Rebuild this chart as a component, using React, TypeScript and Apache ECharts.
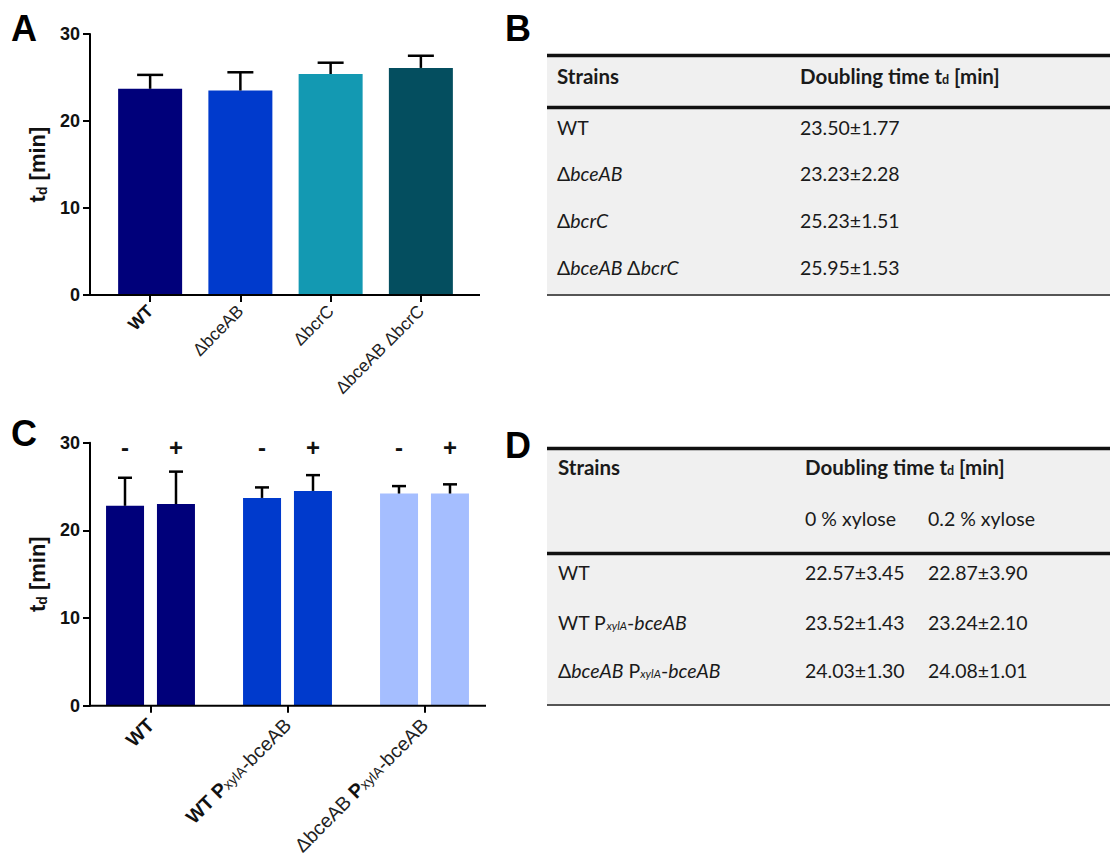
import React, { useEffect, useRef } from "react";
import * as echarts from "echarts";

// ---------- data ----------
const catsA = ["WT", "ΔbceAB", "ΔbcrC", "ΔbceAB ΔbcrC"];
const meanA = [23.7, 23.5, 25.4, 26.1];
const errA = [1.6, 2.1, 1.3, 1.4];

const catsC = ["WT", "WT PxylA-bceAB", "ΔbceAB PxylA-bceAB"];
const meanC0 = [22.8, 23.7, 24.2]; // 0 % xylose ("-")
const errC0 = [3.2, 1.2, 0.85];
const meanC2 = [23.0, 24.5, 24.2]; // 0.2 % xylose ("+")
const errC2 = [3.7, 1.8, 1.05];
const signs = ["-", "+"];

const yTicks = [0, 10, 20, 30];

const tableBRows = ["WT", "ΔbceAB", "ΔbcrC", "ΔbceAB ΔbcrC"];
const tableBValues = ["23.50±1.77", "23.23±2.28", "25.23±1.51", "25.95±1.53"];
const tableDRows = ["WT", "WT PxylA-bceAB", "ΔbceAB PxylA-bceAB"];
const tableD0 = ["22.57±3.45", "23.52±1.43", "24.03±1.30"];
const tableD2 = ["22.87±3.90", "23.24±2.10", "24.08±1.01"];

// ---------- styles ----------
const colorsA = ["#00007a", "#003acc", "#1399b2", "#044e5f"];
const colorsC = ["#00007a", "#003acc", "#a5beff"];
const FONT = "Liberation Sans, Arial, sans-serif";
const TFONT = "Lato, sans-serif";
const TSIZE = 19.5;
const TBOLD = 20.5;

const richStrainTable = (s: string) => {
  if (s === "WT") return "WT";
  if (s === "ΔbceAB") return "Δ{i|bceAB}";
  if (s === "ΔbcrC") return "Δ{i|bcrC}";
  if (s === "ΔbceAB ΔbcrC") return "Δ{i|bceAB} Δ{i|bcrC}";
  if (s === "WT PxylA-bceAB") return "WT P{sub|xylA}-{i|bceAB}";
  if (s === "ΔbceAB PxylA-bceAB") return "Δ{i|bceAB} P{sub|xylA}-{i|bceAB}";
  return s;
};

const richLabelC = (v: string) => {
  if (v === "WT") return "{b|WT}";
  if (v.startsWith("WT ")) return "{b|WT P}{s|xylA}{r|-bceAB}";
  return "{r|ΔbceAB }{b|P}{s|xylA}{r|-bceAB}";
};

const tableRich = {
  i: { fontFamily: TFONT, fontSize: TSIZE, fontStyle: "italic", fill: "#1a1a1a" },
  sub: { fontFamily: TFONT, fontSize: 11.5, fontStyle: "italic", fill: "#1a1a1a", padding: [7, 0, 0, 0] },
  bsub: { fontFamily: TFONT, fontSize: 12.5, fontWeight: "bold", fill: "#1a1a1a", padding: [7, 0, 0, 0] },
};

function tableText(text: string, x: number, y: number, bold = false) {
  return {
    type: "text",
    x,
    y,
    z: 20,
    style: {
      text,
      fontFamily: TFONT,
      fontSize: bold ? TBOLD : TSIZE,
      fontWeight: bold ? "bold" : "normal",
      fill: "#1a1a1a",
      textAlign: "left",
      textVerticalAlign: "middle",
      rich: tableRich,
    },
  };
}

function hline(x1: number, x2: number, y: number, w: number, c = "#111") {
  return { type: "line", z: 20, shape: { x1, y1: y, x2, y2: y }, style: { stroke: c, lineWidth: w } };
}

function letter(t: string, x: number, y: number) {
  return {
    type: "text",
    x,
    y,
    z: 20,
    style: { text: t, fontFamily: FONT, fontSize: 36, fontWeight: "bold", fill: "#000", textVerticalAlign: "top" },
  };
}

export default function App() {
  const ref = useRef<HTMLDivElement>(null);

  useEffect(() => {
    if (!ref.current) return;
    const chart = echarts.init(ref.current, undefined, { renderer: "svg" });

    const yAxisCommon = (gridIndex: number, offset: number) => ({
      gridIndex,
      type: "value",
      min: 0,
      max: 30,
      interval: 10,
      offset,
      axisLine: { show: true, lineStyle: { color: "#000", width: 2 } },
      axisTick: { show: true, length: 7, lineStyle: { color: "#000", width: 2 } },
      splitLine: { show: false },
      axisLabel: {
        fontFamily: FONT,
        fontSize: 18,
        fontWeight: "bold",
        color: "#111",
        margin: 10,
        formatter: (v: number) => (yTicks.includes(v) ? String(v) : ""),
      },
      name: "{t|t}{s|d}{t| [min]}",
      nameLocation: "middle",
      nameGap: 41,
      nameTextStyle: {
        rich: {
          t: { fontFamily: FONT, fontSize: 22, fontWeight: "bold", color: "#111" },
          s: { fontFamily: FONT, fontSize: 14, fontWeight: "bold", color: "#111", padding: [9, 0, 0, 0] },
        },
      },
    });

    const errRender = (dx: number, half: number, withSign: boolean) => (params: any, api: any) => {
      const i = api.value(0);
      const m = api.value(1);
      const e = api.value(2);
      const base = api.coord([i, m]);
      const top = api.coord([i, m + e]);
      const x = base[0] + dx;
      const children: any[] = [
        { type: "line", shape: { x1: x, y1: base[1], x2: x, y2: top[1] }, style: { stroke: "#000", lineWidth: 2.5 } },
        { type: "line", shape: { x1: x - half, y1: top[1], x2: x + half, y2: top[1] }, style: { stroke: "#000", lineWidth: 2.5 } },
      ];
      if (withSign) {
        const sy = api.coord([i, 29.5])[1];
        children.push({
          type: "text",
          x,
          y: sy,
          style: {
            text: dx < 0 ? signs[0] : signs[1],
            fontFamily: FONT,
            fontSize: 24,
            fontWeight: "bold",
            fill: "#111",
            textAlign: "center",
            textVerticalAlign: "middle",
          },
        });
      }
      return { type: "group", children };
    };

    const graphic: any[] = [
      letter("A", 11, 10),
      letter("B", 505, 10),
      letter("C", 11, 415),
      letter("D", 505, 427),
      // x axis lines
      hline(89, 480, 295, 2, "#000"),
      hline(89, 486, 705.7, 2, "#000"),
      // table B
      { type: "rect", z: 15, shape: { x: 547, y: 55, width: 563, height: 240 }, style: { fill: "#f0f0f0" } },
      hline(547, 1110, 55.5, 3.5),
      hline(547, 1110, 107.5, 3.5),
      hline(547, 1110, 295, 2, "#555"),
      tableText("Strains", 557, 76, true),
      tableText("Doubling time t{bsub|d} [min]", 800, 76, true),
      // table D
      { type: "rect", z: 15, shape: { x: 547, y: 448, width: 563, height: 257 }, style: { fill: "#f0f0f0" } },
      hline(547, 1110, 448.5, 3.5),
      hline(547, 1110, 553.5, 3.5),
      hline(547, 1110, 705, 2, "#555"),
      tableText("Strains", 558, 467, true),
      tableText("Doubling time t{bsub|d} [min]", 805, 467, true),
      tableText("0 % xylose", 805, 518),
      tableText("0.2 % xylose", 928, 518),
    ];
    const rowYB = [127, 173, 220, 267];
    tableBRows.forEach((r, k) => {
      graphic.push(tableText(richStrainTable(r), 557, rowYB[k]));
      graphic.push(tableText(tableBValues[k], 800, rowYB[k]));
    });
    const rowYD = [572, 622, 670];
    tableDRows.forEach((r, k) => {
      graphic.push(tableText(richStrainTable(r), 558, rowYD[k]));
      graphic.push(tableText(tableD0[k], 805, rowYD[k]));
      graphic.push(tableText(tableD2[k], 928, rowYD[k]));
    });

    const option: any = {
      animation: false,
      backgroundColor: "#fff",
      grid: [
        { left: 105, top: 34, width: 361, height: 261 },
        { left: 82, top: 442.7, width: 411, height: 263 },
      ],
      xAxis: [
        {
          gridIndex: 0,
          type: "category",
          data: catsA,
          axisLine: { show: false },
          axisTick: { show: true, alignWithLabel: true, length: 7, lineStyle: { color: "#000", width: 2 } },
          axisLabel: {
            interval: 0,
            rotate: 45,
            margin: 13,
            formatter: (v: string) => (v === "WT" ? "{b|WT}" : "{r|" + v + "}"),
            rich: {
              b: { fontFamily: FONT, fontSize: 17.5, fontWeight: "bold", color: "#111" },
              r: { fontFamily: FONT, fontSize: 17.5, color: "#222" },
            },
          },
        },
        {
          gridIndex: 1,
          type: "category",
          data: catsC,
          axisLine: { show: false },
          axisTick: { show: true, alignWithLabel: true, length: 7, lineStyle: { color: "#000", width: 2 } },
          axisLabel: {
            interval: 0,
            rotate: 45,
            margin: 16,
            formatter: (v: string) => richLabelC(v),
            rich: {
              b: { fontFamily: FONT, fontSize: 19.5, fontWeight: "bold", color: "#111" },
              r: { fontFamily: FONT, fontSize: 19.5, color: "#222" },
              s: { fontFamily: FONT, fontSize: 14, color: "#222", padding: [4, 0, 0, 0] },
            },
          },
        },
      ],
      yAxis: [yAxisCommon(0, 15), yAxisCommon(1, -8)],
      series: [
        {
          type: "bar",
          xAxisIndex: 0,
          yAxisIndex: 0,
          barWidth: 64,
          data: meanA.map((v, i) => ({ value: v, itemStyle: { color: colorsA[i] } })),
        },
        {
          type: "custom",
          xAxisIndex: 0,
          yAxisIndex: 0,
          z: 5,
          renderItem: errRender(0, 13, false),
          data: meanA.map((m, i) => [i, m, errA[i]]),
        },
        {
          type: "bar",
          name: "0 % xylose",
          xAxisIndex: 1,
          yAxisIndex: 1,
          barWidth: 38,
          barGap: "34%",
          data: meanC0.map((v, i) => ({ value: v, itemStyle: { color: colorsC[i] } })),
        },
        {
          type: "bar",
          name: "0.2 % xylose",
          xAxisIndex: 1,
          yAxisIndex: 1,
          barWidth: 38,
          barGap: "34%",
          data: meanC2.map((v, i) => ({ value: v, itemStyle: { color: colorsC[i] } })),
        },
        {
          type: "custom",
          xAxisIndex: 1,
          yAxisIndex: 1,
          z: 5,
          renderItem: errRender(-25.5, 7, true),
          data: meanC0.map((m, i) => [i, m, errC0[i]]),
        },
        {
          type: "custom",
          xAxisIndex: 1,
          yAxisIndex: 1,
          z: 5,
          renderItem: errRender(25.5, 7, true),
          data: meanC2.map((m, i) => [i, m, errC2[i]]),
        },
      ],
      graphic,
    };

    chart.setOption(option);
    return () => chart.dispose();
  }, []);

  return (
    <div
      ref={ref}
      style={{ position: "absolute", left: 0, top: 0, width: 1110, height: 859, background: "#fff" }}
    />
  );
}
